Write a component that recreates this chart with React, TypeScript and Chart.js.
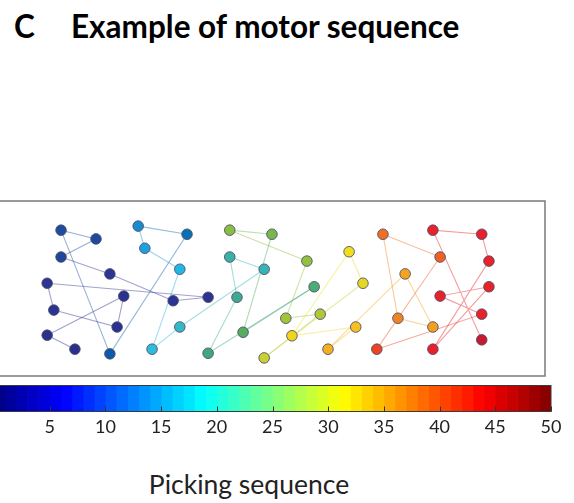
import React, { useEffect, useRef } from 'react';
import { Chart, registerables } from 'chart.js';

Chart.register(...registerables);

// Picking order (1 = first picked, 50 = last)
const pickIndex = [
  1, 2, 3, 4, 5, 6, 7, 8, 9, 10, 11, 12, 13, 14, 15, 16, 17, 18, 19, 20, 21, 22, 23, 24, 25,
  26, 27, 28, 29, 30, 31, 32, 33, 34, 35, 36, 37, 38, 39, 40, 41, 42, 43, 44, 45, 46, 47, 48, 49, 50,
];
// Target positions, in picking order (arbitrary board units)
const posX = [
  15.3, 10.3, 24.1, 22.9, 11.5, 10.3, 39.3, 33.0, 21.6, 12.8,
  19.1, 12.8, 21.6, 35.5, 26.7, 27.9, 34.2, 29.2, 34.2, 49.4,
  43.2, 44.5, 39.3, 58.4, 45.6, 50.8, 43.2, 57.1, 53.3, 59.5,
  49.4, 67.2, 64.7, 54.4, 65.9, 60.9, 74.8, 79.8, 73.5, 70.8,
  81.1, 69.7, 88.6, 81.1, 89.9, 79.8, 89.9, 88.6, 79.8, 88.6,
];
const posY = [
  4.6, 7.0, 13.7, 8.4, 11.3, 15.9, 13.5, 12.9, 17.5, 20.4,
  23.5, 25.0, 3.8, 24.3, 25.7, 21.9, 18.3, 4.6, 8.4, 18.3,
  20.4, 13.5, 3.9, 15.3, 7.5, 24.3, 25.0, 19.7, 9.9, 10.6,
  3.1, 15.9, 21.3, 6.9, 8.4, 4.6, 17.5, 8.4, 9.9, 24.3,
  20.4, 4.6, 10.6, 13.7, 15.3, 4.6, 19.7, 24.3, 25.0, 6.2,
];
const boardXRange = [0, 100];
const boardYRange = [0, 30];

// Colorbar
const colorbarLevels = [
  1, 2, 3, 4, 5, 6, 7, 8, 9, 10, 11, 12, 13, 14, 15, 16, 17, 18, 19, 20, 21, 22, 23, 24, 25,
  26, 27, 28, 29, 30, 31, 32, 33, 34, 35, 36, 37, 38, 39, 40, 41, 42, 43, 44, 45, 46, 47, 48, 49, 50,
];
const colorbarRange = [0, 50];
const colorbarStep = 5;
const axisTitle = 'Picking sequence';
const panelLetter = 'C';
const panelTitle = 'Example of motor sequence';

// ---- styles ----
const markerStops: [number, string][] = [
  [1, '#2b2f8c'], [9, '#2c3592'], [10, '#1f469a'], [12, '#1d4d9e'], [13, '#0b5ba8'],
  [14, '#0b6fb6'], [15, '#1a8ccd'], [16, '#1fa0dc'], [17, '#22b6e4'], [18, '#2fbcda'],
  [19, '#34b8c6'], [20, '#36b4b4'], [21, '#3bb0a4'], [22, '#3eaa90'], [23, '#42a67e'],
  [24, '#4cac72'], [25, '#56ac60'], [26, '#78b84a'], [27, '#8abe42'], [28, '#92c23c'],
  [29, '#a0c638'], [30, '#aec83a'], [31, '#c8d032'], [32, '#e4d824'], [33, '#f0de1e'],
  [34, '#f2d418'], [35, '#f6c020'], [36, '#f5b022'], [37, '#f4a322'], [38, '#f2a022'],
  [39, '#f08424'], [40, '#ef7024'], [41, '#ee6024'], [42, '#ea4424'], [43, '#e8222a'],
  [49, '#e8222a'], [50, '#c81a2e'],
];

function hexToRgb(h: string): number[] {
  const n = parseInt(h.slice(1), 16);
  return [(n >> 16) & 255, (n >> 8) & 255, n & 255];
}
function markerRgb(v: number): number[] {
  for (let i = 0; i < markerStops.length - 1; i++) {
    const [a, ca] = markerStops[i];
    const [b, cb] = markerStops[i + 1];
    if (v >= a && v <= b) {
      const t = b === a ? 0 : (v - a) / (b - a);
      const A = hexToRgb(ca), B = hexToRgb(cb);
      return A.map((c, k) => Math.round(c + (B[k] - c) * t));
    }
  }
  return hexToRgb(markerStops[markerStops.length - 1][1]);
}
function rgba(c: number[], a: number) {
  return `rgba(${c[0]},${c[1]},${c[2]},${a})`;
}
function jet(t: number): string {
  const cl = (x: number) => Math.max(0, Math.min(1, x));
  const r = cl(1.5 - Math.abs(4 * t - 3));
  const g = cl(1.5 - Math.abs(4 * t - 2));
  const b = cl(1.5 - Math.abs(4 * t - 1));
  return `rgb(${Math.round(r * 255)},${Math.round(g * 255)},${Math.round(b * 255)})`;
}

const FONT = 'Lato, "Open Sans", sans-serif';

const boxPlugin = {
  id: 'boxFrame',
  beforeDatasetsDraw(chart: any) {
    const { ctx, chartArea: a } = chart;
    ctx.save();
    ctx.strokeStyle = '#7a7a7a';
    ctx.lineWidth = 1.5;
    ctx.strokeRect(a.left, a.top, a.right - a.left, a.bottom - a.top);
    ctx.restore();
  },
};

const colorbarFrame = {
  id: 'cbFrame',
  afterDatasetsDraw(chart: any) {
    const { ctx, chartArea: a, scales } = chart;
    ctx.save();
    ctx.strokeStyle = '#3a3a3a';
    ctx.lineWidth = 1;
    ctx.strokeRect(a.left, a.top + 0.5, a.right - a.left, a.bottom - a.top - 0.5);
    ctx.strokeStyle = '#333';
    ctx.lineWidth = 1;
    for (let v = colorbarRange[0]; v <= colorbarRange[1]; v += colorbarStep) {
      const x = Math.round(scales.x.getPixelForValue(v)) + 0.5;
      ctx.beginPath();
      ctx.moveTo(x, a.bottom);
      ctx.lineTo(x, a.bottom - 5);
      ctx.stroke();
    }
    ctx.restore();
  },
};

export default function App() {
  const boardRef = useRef<HTMLCanvasElement>(null);
  const barRef = useRef<HTMLCanvasElement>(null);

  useEffect(() => {
    const pts = pickIndex.map((p, i) => ({ x: posX[i], y: posY[i], seq: p }));
    const fill = pickIndex.map((p) => rgba(markerRgb(p), 1));
    const board = new Chart(boardRef.current!, {
      type: 'line',
      data: {
        datasets: [
          {
            data: pts as any,
            showLine: true,
            borderWidth: 1.1,
            borderColor: 'rgba(120,120,160,0.5)',
            segment: {
              borderColor: (ctx: any) => rgba(markerRgb(pickIndex[ctx.p0DataIndex]), 0.45),
            },
            pointRadius: 5.3,
            pointBorderWidth: 1,
            pointBackgroundColor: fill,
            pointBorderColor: 'rgba(75,75,105,0.85)',
            tension: 0,
          } as any,
        ],
      },
      options: {
        animation: false,
        responsive: false,
        layout: { padding: { left: 10, right: 35, top: 201, bottom: 24 } },
        scales: {
          x: { type: 'linear', min: boardXRange[0], max: boardXRange[1], display: false },
          y: { type: 'linear', min: boardYRange[0], max: boardYRange[1], display: false },
        },
        plugins: { legend: { display: false }, tooltip: { enabled: false } },
      },
      plugins: [boxPlugin],
    });

    const bar = new Chart(barRef.current!, {
      type: 'bar',
      data: {
        labels: ['seq'],
        datasets: colorbarLevels.map((v) => ({
          data: [[v - 1, v]] as any,
          backgroundColor: jet((v - 0.5) / colorbarRange[1]),
          borderWidth: 0,
          barPercentage: 1,
          categoryPercentage: 1,
          grouped: false,
        })) as any,
      },
      options: {
        animation: false,
        responsive: false,
        indexAxis: 'y',
        layout: { padding: { left: 14, right: 29, top: 15, bottom: 7 } },
        scales: {
          x: {
            type: 'linear',
            min: colorbarRange[0],
            max: colorbarRange[1],
            ticks: { stepSize: colorbarStep, padding: 5, color: '#222', font: { family: FONT, size: 18 }, autoSkip: false, maxRotation: 0 },
            grid: { display: false, drawTicks: false },
            border: { display: false },
          },
          y: { display: false },
        },
        plugins: { legend: { display: false }, tooltip: { enabled: false } },
      },
      plugins: [colorbarFrame],
    });

    return () => {
      board.destroy();
      bar.destroy();
    };
  }, []);

  return (
    <div style={{ position: 'fixed', left: 0, top: 0, width: 574, height: 503, overflow: 'hidden', background: '#fff' }}>
      <div style={{ position: 'absolute', left: 14, top: 10, fontFamily: FONT, fontWeight: 700, fontSize: 31.5, lineHeight: '32px', color: '#000', whiteSpace: 'nowrap' }}>
        {panelLetter}
      </div>
      <div style={{ position: 'absolute', left: 71, top: 10, fontFamily: FONT, fontWeight: 700, fontSize: 31.5, lineHeight: '32px', color: '#000', whiteSpace: 'nowrap' }}>
        {panelTitle}
      </div>
      <canvas ref={boardRef} width={600} height={400} style={{ position: 'absolute', left: -20, top: 0, width: 600, height: 400 }} />
      <canvas ref={barRef} width={600} height={75} style={{ position: 'absolute', left: -20, top: 370, width: 600, height: 75 }} />
      <div style={{ position: 'absolute', left: 0, width: 498, top: 469, textAlign: 'center', fontFamily: FONT, fontSize: 26.5, lineHeight: '30px', color: '#222', whiteSpace: 'nowrap' }}>
        {axisTitle}
      </div>
    </div>
  );
}
